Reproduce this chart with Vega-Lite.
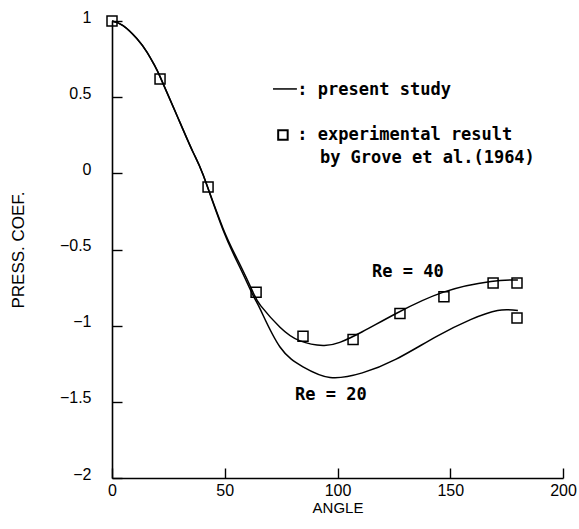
{
  "$schema": "https://vega.github.io/schema/vega-lite/v6.json",
  "autosize": {"type": "none"},
  "width": 451,
  "height": 457,
  "padding": {"left": 112, "top": 21, "right": 16, "bottom": 51},
  "background": "white",
  "config": {
    "view": {"stroke": null},
    "axis": {
      "grid": false,
      "domainColor": "black",
      "domainWidth": 1.6,
      "tickColor": "black",
      "tickWidth": 1.4,
      "tickSize": -10,
      "labelFlush": false,
      "labelFont": "Liberation Sans",
      "labelFontSize": 16,
      "labelColor": "black",
      "titleFont": "Liberation Sans",
      "titleFontSize": 15,
      "titleFontWeight": "normal",
      "titleColor": "black"
    }
  },
  "datasets": {
    "curves": [
      {"Re": "40", "angle": 0, "cp": 1.0},
      {"Re": "40", "angle": 4.9, "cp": 0.97},
      {"Re": "40", "angle": 11, "cp": 0.885},
      {"Re": "40", "angle": 15.5, "cp": 0.795},
      {"Re": "40", "angle": 19, "cp": 0.705},
      {"Re": "40", "angle": 21.3, "cp": 0.635},
      {"Re": "40", "angle": 28.8, "cp": 0.38},
      {"Re": "40", "angle": 35.9, "cp": 0.14},
      {"Re": "40", "angle": 40.4, "cp": -0.01},
      {"Re": "40", "angle": 49.2, "cp": -0.36},
      {"Re": "40", "angle": 56.8, "cp": -0.6},
      {"Re": "40", "angle": 62.5, "cp": -0.78},
      {"Re": "40", "angle": 66, "cp": -0.87},
      {"Re": "40", "angle": 74.5, "cp": -1.01},
      {"Re": "40", "angle": 83.4, "cp": -1.1},
      {"Re": "40", "angle": 93.6, "cp": -1.13},
      {"Re": "40", "angle": 101, "cp": -1.11},
      {"Re": "40", "angle": 111, "cp": -1.04},
      {"Re": "40", "angle": 126, "cp": -0.92},
      {"Re": "40", "angle": 147, "cp": -0.78},
      {"Re": "40", "angle": 168, "cp": -0.71},
      {"Re": "40", "angle": 180, "cp": -0.7},
      {"Re": "20", "angle": 0, "cp": 1.0},
      {"Re": "20", "angle": 4.9, "cp": 0.97},
      {"Re": "20", "angle": 11, "cp": 0.885},
      {"Re": "20", "angle": 15.5, "cp": 0.795},
      {"Re": "20", "angle": 19, "cp": 0.705},
      {"Re": "20", "angle": 21.3, "cp": 0.635},
      {"Re": "20", "angle": 28.8, "cp": 0.38},
      {"Re": "20", "angle": 35.9, "cp": 0.14},
      {"Re": "20", "angle": 40.4, "cp": -0.01},
      {"Re": "20", "angle": 49.2, "cp": -0.37},
      {"Re": "20", "angle": 56.8, "cp": -0.62},
      {"Re": "20", "angle": 62.5, "cp": -0.8},
      {"Re": "20", "angle": 66, "cp": -0.9},
      {"Re": "20", "angle": 74.5, "cp": -1.14},
      {"Re": "20", "angle": 84.7, "cp": -1.27},
      {"Re": "20", "angle": 96.7, "cp": -1.34},
      {"Re": "20", "angle": 111, "cp": -1.31},
      {"Re": "20", "angle": 126, "cp": -1.22},
      {"Re": "20", "angle": 144, "cp": -1.07},
      {"Re": "20", "angle": 159, "cp": -0.96},
      {"Re": "20", "angle": 171, "cp": -0.9},
      {"Re": "20", "angle": 180, "cp": -0.9}
    ],
    "exp": [
      {"angle": 0, "cp": 1.0},
      {"angle": 21.3, "cp": 0.62},
      {"angle": 42.6, "cp": -0.09},
      {"angle": 63.9, "cp": -0.78},
      {"angle": 84.7, "cp": -1.07},
      {"angle": 106.9, "cp": -1.09},
      {"angle": 127.7, "cp": -0.92},
      {"angle": 147.2, "cp": -0.81},
      {"angle": 169, "cp": -0.72},
      {"angle": 179.6, "cp": -0.72},
      {"angle": 179.6, "cp": -0.95}
    ],
    "legendLine": [{"a1": 71.4, "a2": 82, "cp": 0.554}],
    "legendSquare": [{"angle": 75.8, "cp": 0.252}],
    "notes": [
      {"angle": 82.2, "cp": 0.547, "label": ": present study"},
      {"angle": 82.2, "cp": 0.252, "label": ": experimental result"},
      {"angle": 92.2, "cp": 0.101, "label": "by Grove et al.(1964)"},
      {"angle": 115.3, "cp": -0.647, "label": "Re = 40"},
      {"angle": 81.2, "cp": -1.454, "label": "Re = 20"}
    ]
  },
  "layer": [
    {
      "data": {"name": "curves"},
      "mark": {"type": "line", "interpolate": "natural", "color": "black", "strokeWidth": 1.5},
      "encoding": {
        "x": {
          "field": "angle", "type": "quantitative",
          "scale": {"domain": [0, 200]},
          "axis": {"title": "ANGLE", "values": [0, 50, 100, 150, 200], "labelPadding": 14, "titlePadding": 2}
        },
        "y": {
          "field": "cp", "type": "quantitative",
          "scale": {"domain": [-2, 1]},
          "axis": {"title": "PRESS. COEF.", "format": "~g", "titleFontSize": 17, "values": [1, 0.5, 0, -0.5, -1, -1.5, -2], "labelPadding": 31, "labelOffset": -4, "titlePadding": 32}
        },
        "detail": {"field": "Re"}
      }
    },
    {
      "data": {"name": "exp"},
      "mark": {"type": "point", "shape": "square", "filled": false, "color": "black", "strokeWidth": 1.5, "size": 100, "opacity": 1},
      "encoding": {
        "x": {"field": "angle", "type": "quantitative"},
        "y": {"field": "cp", "type": "quantitative"}
      }
    },
    {
      "data": {"name": "legendLine"},
      "mark": {"type": "rule", "color": "black", "strokeWidth": 1.5},
      "encoding": {
        "x": {"field": "a1", "type": "quantitative"},
        "x2": {"field": "a2"},
        "y": {"field": "cp", "type": "quantitative"}
      }
    },
    {
      "data": {"name": "legendSquare"},
      "mark": {"type": "point", "shape": "square", "filled": false, "color": "black", "strokeWidth": 2, "size": 90, "opacity": 1},
      "encoding": {
        "x": {"field": "angle", "type": "quantitative"},
        "y": {"field": "cp", "type": "quantitative"}
      }
    },
    {
      "data": {"name": "notes"},
      "mark": {"type": "text", "align": "left", "baseline": "middle", "font": "DejaVu Sans Mono", "fontWeight": "bold", "fontSize": 17, "color": "black"},
      "encoding": {
        "x": {"field": "angle", "type": "quantitative"},
        "y": {"field": "cp", "type": "quantitative"},
        "text": {"field": "label"}
      }
    }
  ]
}
